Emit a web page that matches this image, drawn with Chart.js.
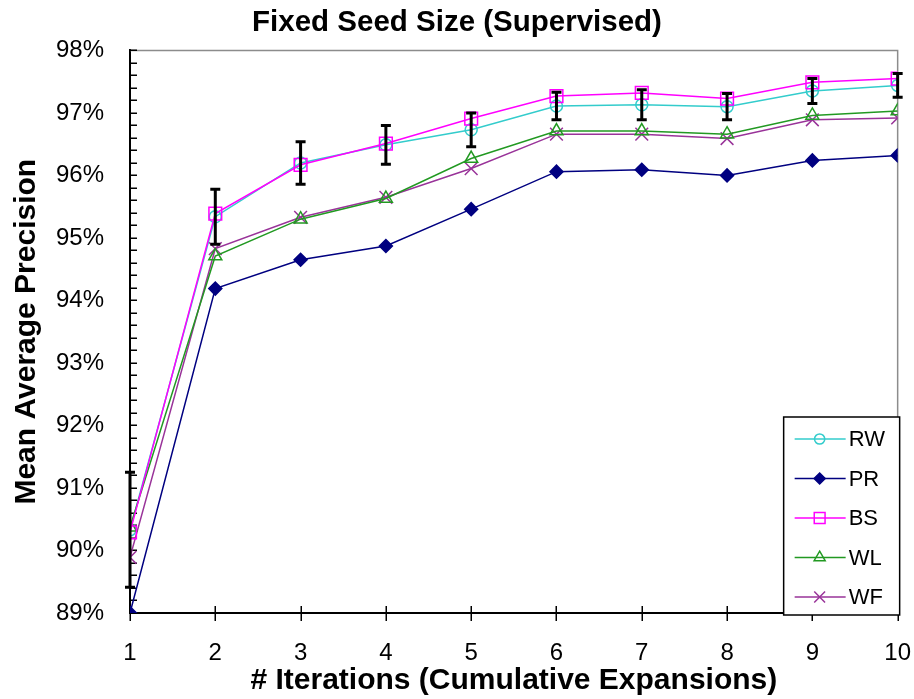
<!DOCTYPE html>
<html>
<head>
<meta charset="utf-8">
<title>Fixed Seed Size (Supervised)</title>
<script src="https://cdn.jsdelivr.net/npm/chart.js@4/dist/chart.umd.min.js"></script>
<style>
  html, body { margin: 0; padding: 0; background: #ffffff; }
  #wrap { width: 914px; height: 699px; }
</style>
</head>
<body>
<div id="wrap"><canvas id="c" width="914" height="699"></canvas></div>
<script>
// Iteration numbers along the x axis
const iterations = [1, 2, 3, 4, 5, 6, 7, 8, 9, 10];

// Mean average precision (%) per method
const rwValues = [90.33, 95.34, 96.20, 96.49, 96.73, 97.11, 97.13, 97.10, 97.35, 97.44];
const prValues = [89.00, 94.19, 94.65, 94.87, 95.46, 96.06, 96.09, 96.00, 96.24, 96.32];
const bsValues = [90.29, 95.39, 96.17, 96.51, 96.91, 97.27, 97.32, 97.23, 97.49, 97.55];
const wlValues = [90.37, 94.71, 95.30, 95.63, 96.27, 96.71, 96.71, 96.66, 96.96, 97.03];
const wfValues = [89.89, 94.83, 95.33, 95.65, 96.11, 96.66, 96.66, 96.59, 96.89, 96.92];

// Error bar half-widths (%) on the RW series
const rwError = [0.92, 0.44, 0.34, 0.31, 0.27, 0.22, 0.24, 0.21, 0.20, 0.19];

// Axis range and labels
const yMin = 89;
const yMax = 98;
const yMinorStep = 0.2;

const FONT = "Arial, 'Liberation Sans', Helvetica, sans-serif";

function pts(values) {
  return iterations.map((x, i) => ({ x: x, y: values[i] }));
}

const seriesDefs = [
  { label: 'RW', data: rwValues, color: '#33CCCC', style: 'circle',   radius: 6,   fill: false, order: 2 },
  { label: 'PR', data: prValues, color: '#000080', style: 'rectRot',  radius: 6.5, fill: true,  order: 4 },
  { label: 'BS', data: bsValues, color: '#FF00FF', style: 'rect',     radius: 9,   fill: false, order: 0 },
  { label: 'WL', data: wlValues, color: '#229922', style: 'triangle', radius: 7.5, fill: false, order: 1 },
  { label: 'WF', data: wfValues, color: '#993399', style: 'crossRot', radius: 9,   fill: false, order: 3 }
];

const datasets = seriesDefs.map(s => ({
  label: s.label,
  data: pts(s.data),
  borderColor: s.color,
  backgroundColor: s.fill ? s.color : 'rgba(255,255,255,0)',
  pointStyle: s.style,
  pointRadius: s.radius,
  pointHoverRadius: s.radius,
  pointBorderWidth: 1.5,
  pointBorderColor: s.color,
  pointBackgroundColor: s.fill ? s.color : 'rgba(255,255,255,0)',
  borderWidth: 1.5,
  tension: 0,
  fill: false,
  order: s.order
}));

// Frame, inward tick marks, error bars and the boxed legend
const decorations = {
  id: 'decorations',
  beforeDatasetsDraw(chart) {
    const ctx = chart.ctx;
    const { left, right, top, bottom } = chart.chartArea;
    const ys = chart.scales.y;
    const xs = chart.scales.x;
    ctx.save();
    // gray frame on the top and right edges
    ctx.strokeStyle = '#8c8c8c';
    ctx.lineWidth = 1.5;
    ctx.beginPath();
    ctx.moveTo(left, top);
    ctx.lineTo(right, top);
    ctx.lineTo(right, bottom);
    ctx.stroke();
    // inward ticks on the y axis (every 0.2%)
    ctx.strokeStyle = '#000';
    ctx.lineWidth = 1.5;
    ctx.beginPath();
    const n = Math.round((yMax - yMin) / yMinorStep);
    for (let i = 0; i <= n; i++) {
      const py = Math.round(ys.getPixelForValue(yMin + i * yMinorStep)) + 0.25;
      ctx.moveTo(left, py);
      ctx.lineTo(left + 7, py);
    }
    ctx.stroke();
    // crossing ticks on the x axis
    ctx.lineWidth = 1.5;
    ctx.beginPath();
    iterations.forEach(v => {
      const px = Math.round(xs.getPixelForValue(v)) + 0.25;
      ctx.moveTo(px, bottom - 7);
      ctx.lineTo(px, bottom + 8);
    });
    ctx.stroke();
    ctx.restore();
  },
  afterDatasetsDraw(chart) {
    const ctx = chart.ctx;
    const ys = chart.scales.y;
    const xs = chart.scales.x;
    const { right, bottom } = chart.chartArea;
    ctx.save();
    // error bars around the RW values
    ctx.strokeStyle = '#000';
    ctx.lineWidth = 3;
    iterations.forEach((v, i) => {
      const px = xs.getPixelForValue(v);
      const yHi = ys.getPixelForValue(rwValues[i] + rwError[i]);
      const yLo = ys.getPixelForValue(rwValues[i] - rwError[i]);
      ctx.beginPath();
      ctx.moveTo(px, yHi);
      ctx.lineTo(px, yLo);
      ctx.moveTo(px - 5, yHi);
      ctx.lineTo(px + 5, yHi);
      ctx.moveTo(px - 5, yLo);
      ctx.lineTo(px + 5, yLo);
      ctx.stroke();
    });

    // legend box
    const bw = 116, bh = 198;
    const bx = right + 2 - bw;
    const by = bottom + 2 - bh;
    ctx.fillStyle = '#ffffff';
    ctx.fillRect(bx, by, bw, bh);
    ctx.strokeStyle = '#000';
    ctx.lineWidth = 1.5;
    ctx.strokeRect(bx, by, bw, bh);
    ctx.font = '22px ' + FONT;
    ctx.textBaseline = 'middle';
    ctx.textAlign = 'left';
    chart.data.datasets.forEach((ds, i) => {
      const cy = by + 22 + i * 39.5;
      ctx.strokeStyle = ds.borderColor;
      ctx.lineWidth = 1.5;
      ctx.beginPath();
      ctx.moveTo(bx + 11, cy);
      ctx.lineTo(bx + 62, cy);
      ctx.stroke();
      ctx.fillStyle = ds.pointBackgroundColor;
      ctx.strokeStyle = ds.borderColor;
      ctx.lineWidth = 1.5;
      Chart.helpers.drawPoint(ctx, {
        pointStyle: ds.pointStyle,
        radius: ds.pointRadius * 0.85,
        borderWidth: 1.5,
        rotation: 0
      }, bx + 36, cy);
      ctx.fillStyle = '#000';
      ctx.fillText(ds.label, bx + 65, cy + 1);
    });
    ctx.restore();
  }
};

new Chart(document.getElementById('c'), {
  type: 'line',
  data: { datasets: datasets },
  options: {
    responsive: false,
    animation: false,
    events: [],
    layout: { padding: { left: 0, right: 0, top: 0, bottom: 0 } },
    plugins: {
      legend: { display: false },
      tooltip: { enabled: false },
      title: {
        display: true,
        text: 'Fixed Seed Size (Supervised)',
        color: '#000',
        font: { family: FONT, size: 29.5, weight: 'bold' },
        padding: { top: 5, bottom: 10 }
      }
    },
    scales: {
      x: {
        type: 'linear',
        min: 1,
        max: 10,
        grid: { display: false, drawTicks: true, tickLength: 23 },
        border: { display: true, color: '#000', width: 2 },
        ticks: {
          stepSize: 1,
          color: '#000',
          padding: 3,
          font: { family: FONT, size: 24 },
          callback: v => String(v)
        },
        title: {
          display: true,
          text: '# Iterations (Cumulative Expansions)',
          color: '#000',
          font: { family: FONT, size: 30, weight: 'bold' },
          padding: { top: 0, bottom: 0 }
        },
        afterFit(scale) { scale.height = 86; }
      },
      y: {
        type: 'linear',
        min: yMin,
        max: yMax,
        grid: { display: false, drawTicks: false },
        border: { display: true, color: '#000', width: 2 },
        ticks: {
          stepSize: 1,
          color: '#000',
          padding: 26,
          font: { family: FONT, size: 24 },
          callback: v => v + '%'
        },
        title: {
          display: true,
          text: 'Mean Average Precision',
          color: '#000',
          font: { family: FONT, size: 30, weight: 'bold' },
          padding: { top: 9, bottom: 0 }
        },
        afterFit(scale) { scale.width = 130; }
      }
    }
  },
  plugins: [decorations]
});
</script>
</body>
</html>
